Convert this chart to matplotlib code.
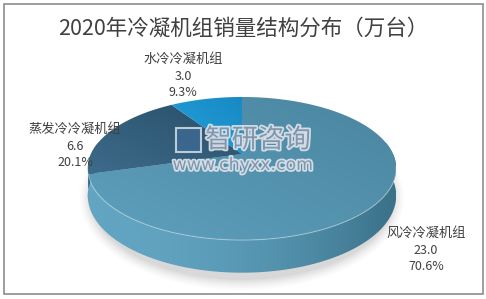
import numpy as np
import matplotlib
matplotlib.use('Agg')
import matplotlib.pyplot as plt
from matplotlib.patches import Polygon, Rectangle, Ellipse
from matplotlib.colors import LinearSegmentedColormap
import matplotlib.patheffects as pe

plt.rcParams['font.family'] = ['Noto Sans CJK SC', 'DejaVu Sans']

# data
names = ['风冷冷凝机组', '蒸发冷冷凝机组', '水冷冷凝机组']
values = [23.0, 6.6, 3.0]
pct_labels = ['70.6%', '20.1%', '9.3%']
title = '2020年冷凝机组销量结构分布（万台）'

top_cols = [('#5ea0bd', '#4a859f'), ('#3d6b8a', '#294f69'), ('#22a2de', '#1889c2')]
side_cols = [('#62a5c2', '#3b7189'), ('#2f5a76', '#2a5069'), ('#1b8fc9', '#1b8fc9')]

# perspective pie geometry (pixel coords, y down)
Xc, Yc = 242, 154
A, B, k, D = 151, 68.6, 0.203, 26


def proj(phi, z=0.0):
    phi = np.radians(phi)
    x, y = np.sin(phi), np.cos(phi)
    w = 1 + k * y
    return Xc + A * x / w, Yc + (-B * y + D * z) / w


def grad_fill(ax, poly, c0, c1, horizontal=False):
    xs, ys = poly[:, 0], poly[:, 1]
    x0, x1, y0, y1 = xs.min(), xs.max(), ys.min(), ys.max()
    n = 64
    if horizontal:
        g = np.tile(np.linspace(0, 1, n) ** 2, (n, 1))
    else:
        gx = np.linspace(0, 1, n)[None, :]
        gy = np.linspace(0, 1, n)[:, None]
        g = np.clip((gx + (1 - gy)) / 2, 0, 1)
    cmap = LinearSegmentedColormap.from_list('g', [c0, c1])
    patch = Polygon(poly, closed=True, facecolor='none', edgecolor='none')
    ax.add_patch(patch)
    im = ax.imshow(g, cmap=cmap, extent=(x0, x1, y1, y0), origin='upper',
                   interpolation='bilinear', aspect='auto', zorder=patch.get_zorder())
    im.set_clip_path(patch)


fig = plt.figure(figsize=(4.86, 2.99), dpi=100)
ax = fig.add_axes([0, 0, 1, 1])
ax.set_xlim(0, 486)
ax.set_ylim(299, 0)
ax.axis('off')

ax.add_patch(Rectangle((3.5, 3.5), 479, 290, fill=False, edgecolor='#8c8c8c', lw=1.2))

# soft shadow
for i, a in enumerate(np.linspace(0.06, 0.02, 6)):
    ax.add_patch(Ellipse((Xc, Yc + 44), 2 * 152 + 4 * i, 2 * 82 + 4 * i,
                         facecolor='#555555', alpha=a, edgecolor='none', zorder=0))

fr = np.array(values) / sum(values)
edges = np.concatenate([[0], np.cumsum(fr) * 360])

# sides (front part only)
for i in range(len(values)):
    a0, a1 = max(edges[i], 80), min(edges[i + 1], 280)
    if a1 <= a0:
        continue
    ph = np.linspace(a0, a1, 200)
    tx, ty = proj(ph, 0)
    bx, by = proj(ph, 1)
    poly = np.column_stack([np.concatenate([tx, bx[::-1]]), np.concatenate([ty, by[::-1]])])
    if i == 0:
        grad_fill(ax, poly, side_cols[i][0], side_cols[i][1], horizontal=True)
    else:
        ax.add_patch(Polygon(poly, closed=True, facecolor=side_cols[i][0], edgecolor='none'))

# top faces
for i in range(len(values)):
    ph = np.linspace(edges[i], edges[i + 1], 300)
    tx, ty = proj(ph, 0)
    poly = np.column_stack([np.concatenate([[Xc], tx]), np.concatenate([[Yc], ty])])
    grad_fill(ax, poly, top_cols[i][0], top_cols[i][1])

# highlight along front rim
ph = np.linspace(100, 255, 200)
tx, ty = proj(ph, 0)
ax.plot(tx, ty, color='white', alpha=0.35, lw=0.8)

# labels
txt_col = '#404040'
ax.text(243, 29, title, ha='center', va='center', fontsize=15.5, color=txt_col)
label_pos = [(426, 233), (75, 129), (183, 59)]
for (x, y), n, v, p in zip(label_pos, names, values, pct_labels):
    ax.text(x, y, n, ha='center', va='center', fontsize=9.5, color=txt_col)
    ax.text(x, y + 17, f'{v:.1f}', ha='center', va='center', fontsize=9, color=txt_col)
    ax.text(x, y + 34, p, ha='center', va='center', fontsize=9, color=txt_col)

# watermark
wm = [pe.Stroke(linewidth=2.5, foreground='#dfe7ee'), pe.Normal()]
ax.text(258, 140, '智研咨询', ha='center', va='center', fontsize=19,
        color='#7b8ea5', alpha=0.9, path_effects=wm)
ax.text(243, 165, 'www.chyxx.com', ha='center', va='center', fontsize=12.5,
        color='#7b8ea5', alpha=0.9, path_effects=wm, family='DejaVu Sans')
ax.add_patch(Rectangle((176, 128), 25, 24, facecolor='#3d6a93', edgecolor='#dfe7ee',
                       lw=1.5, alpha=0.8))

fig.savefig('out.png', dpi=100)
